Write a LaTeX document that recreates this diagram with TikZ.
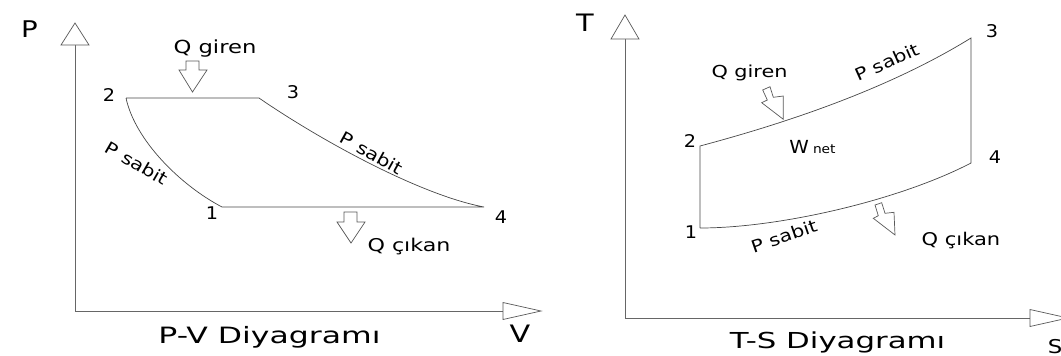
\documentclass[tikz,border=0pt]{standalone}
\usepackage{fontspec}
\setmainfont{DejaVu Sans}
\newfontfamily\fsA[FakeStretch=1.1]{DejaVu Sans}
\newfontfamily\fsB[FakeStretch=1.2]{DejaVu Sans}
\newfontfamily\fsC[FakeStretch=1.26]{DejaVu Sans}
\newfontfamily\fsD[FakeStretch=1.4]{DejaVu Sans}
\newcommand{\fsz}[1]{\fontsize{#1}{#1}\selectfont}
\begin{document}
\begin{tikzpicture}[x=1pt,y=-1pt,
  txt/.style={inner sep=0pt, anchor=base},
  rtxt/.style={inner sep=0pt, anchor=center},
  axisline/.style={draw=black!60, line width=0.9pt},
  cycleline/.style={draw=black!72, line width=0.7pt},
  hollow/.style={draw=black!65, line width=0.7pt, fill=white, line join=miter},
]
\useasboundingbox (0,0) rectangle (1061,356);
\clip (0,0) rectangle (1061,356);

% ---------- left: P-V diagram ----------
\coordinate (LO) at (75,311);
\coordinate (LYt) at (75,45);
\coordinate (LXt) at (503,311);
\draw[axisline] (LYt) -- (LO) -- (LXt);
\draw[hollow] (LYt) ++(-14,0) -- ++(28,0) -- ++(-14,-22) -- cycle;
\draw[hollow] (LXt) ++(0,-8.5) -- ++(0,17) -- ++(38,-8.5) -- cycle;

\coordinate (L1) at (222,207);
\coordinate (L2) at (126,98);
\coordinate (L3) at (259,98);
\coordinate (L4) at (484,207);
\draw[cycleline] (L2) -- (L3) .. controls (320,140) and (420,195) .. (L4) -- (L1) .. controls (180,185) and (135,140) .. (L2);

\draw[hollow] (186,61) -- (199,61) -- (199,70) -- (207,70) -- (192.5,92) -- (179,70) -- (186,70) -- cycle;
\draw[hollow] (344,212) -- (357,212) -- (357,222) -- (365,222) -- (351,243) -- (337,222) -- (344,222) -- cycle;

\node[txt] (Plbl) at (29.5,37) {\fsB\fsz{23}P};
\node[txt] (Vlbl) at (520,342) {\fsC\fsz{24}V};
\node[txt] (Lqin) at (215,53) {\fsC\fsz{18}Q giren};
\node[txt] (Lqout) at (409,251) {\fsC\fsz{17.6}Q çıkan};
\node[txt] (Ltitle) at (269.5,343) {\fsD\fsz{22.5}P-V Diyagramı};
\node[txt] (Ln2) at (109,101) {\fsA\fsz{17.5}2};
\node[txt] (Ln3) at (293,98) {\fsA\fsz{17.5}3};
\node[txt] (Ln1) at (212,219) {\fsA\fsz{17.5}1};
\node[txt] (Ln4) at (501,223) {\fsA\fsz{17.5}4};
\node[rtxt, rotate=-30] (Lps1) at (136.7,163.3) {\fsB\fsz{17}P sabit};
\node[rtxt, rotate=-29] (Lps2) at (372,153) {\fsB\fsz{17}P sabit};

% ---------- right: T-S diagram ----------
\coordinate (RO) at (625,318);
\coordinate (RYt) at (625,39);
\coordinate (RXt) at (1030,318);
\draw[axisline] (RYt) -- (RO) -- (RXt);
\draw[hollow] (RYt) ++(-14,0) -- ++(28,0) -- ++(-14,-24) -- cycle;
\draw[hollow] (RXt) ++(0,-8.5) -- ++(0,17) -- ++(38,-8.5) -- cycle;

\coordinate (R1) at (700,228);
\coordinate (R2) at (700,146);
\coordinate (R3) at (971,38);
\coordinate (R4) at (971,163);
\draw[cycleline] (R1) -- (R2) .. controls (790,122) and (890,88) .. (R3) -- (R4) .. controls (900,200) and (780,228) .. (R1);

\draw[hollow] (762.7,90) -- (770,86.7) -- (773.3,97.3) -- (783.3,96) -- (783.3,119.3) -- (761.7,102.7) -- (767.3,100) -- cycle;
\draw[hollow] (875,205) -- (881.7,202.7) -- (885,213.3) -- (894,212.3) -- (895,235) -- (873.3,218.3) -- (878.3,215.7) -- cycle;

\node[txt] (Tlbl) at (585,31.7) {\fsB\fsz{24}T};
\node[txt] (Slbl) at (1055,353) {\fsB\fsz{19}S};
\node[txt] (Rqin) at (749.5,77) {\fsC\fsz{16.5}Q giren};
\node[txt] (Rqout) at (961,245) {\fsB\fsz{17.5}Q çıkan};
\node[txt] (Rtitle) at (837.5,348) {\fsD\fsz{22}T-S Diyagramı};
\node[txt] (Rn2) at (690,147) {\fsA\fsz{17.5}2};
\node[txt] (Rn3) at (992,37) {\fsA\fsz{17.5}3};
\node[txt] (Rn4) at (995,163) {\fsA\fsz{17.5}4};
\node[txt] (Rn1) at (691,238) {\fsA\fsz{17.5}1};
\node[txt] (Wnet) at (812.5,153) {\fsA\fsz{18}W\hspace{4pt}\fsz{12.5}net};
\node[rtxt, rotate=24] (Rps1) at (887,62) {\fsB\fsz{17}P sabit};
\node[rtxt, rotate=19] (Rps2) at (784,236) {\fsB\fsz{17}P sabit};
\end{tikzpicture}
\end{document}
